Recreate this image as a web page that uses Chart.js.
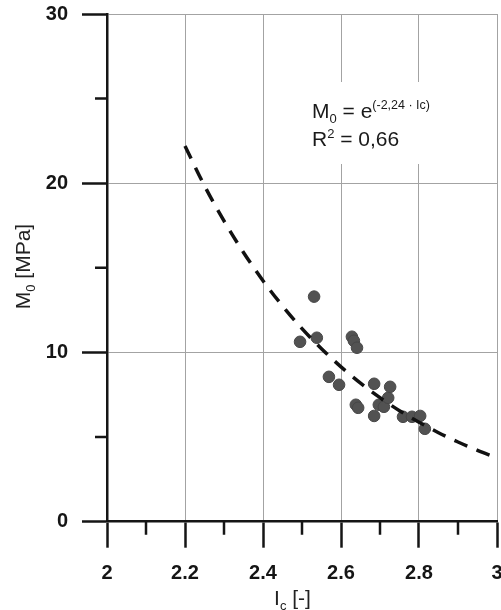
<!DOCTYPE html>
<html>
<head>
<meta charset="utf-8">
<script src="https://cdn.jsdelivr.net/npm/chart.js@4.4.0/dist/chart.umd.min.js"></script>
<style>
  html, body { margin: 0; padding: 0; background: #fff; }
  #wrap { width: 501px; height: 610px; }
</style>
</head>
<body>
<div id="wrap"><canvas id="modulusChart"></canvas></div>
<script>
// measured points: Ic [-] against M0 [MPa]
var icValues = [2.495, 2.531, 2.538, 2.569, 2.595, 2.628, 2.633, 2.641, 2.638, 2.644,
                2.685, 2.685, 2.697, 2.710, 2.721, 2.726, 2.759, 2.782, 2.803, 2.815];
var m0Values = [10.63, 13.30, 10.87, 8.56, 8.09, 10.93, 10.69, 10.28, 6.91, 6.73,
                8.15, 6.25, 6.91, 6.79, 7.32, 7.97, 6.20, 6.20, 6.25, 5.49];

// exponential trend line
var trendIc = [2.20, 2.25, 2.30, 2.35, 2.40, 2.45, 2.50, 2.55, 2.60,
               2.65, 2.70, 2.75, 2.80, 2.85, 2.90, 2.95, 3.00];
var trendM0 = [22.2, 19.85, 17.77, 15.91, 14.24, 12.75, 11.41, 10.22, 9.15,
               8.19, 7.33, 6.56, 5.88, 5.26, 4.71, 4.22, 3.77];

// axis ticks
var xMajor = [2, 2.2, 2.4, 2.6, 2.8, 3];
var xMinor = [2.1, 2.3, 2.5, 2.7, 2.9];
var yMajor = [0, 10, 20, 30];
var yMinor = [5, 15, 25];

var FONT = "'Liberation Sans', Arial, sans-serif";
var INK = '#151515';

function toPoints(xs, ys) {
    return xs.map(function (x, i) { return { x: x, y: ys[i] }; });
}

// draws runs of text with sub/superscripts: [text, size, baselineShift]
function drawRuns(ctx, runs, x, y, align) {
    var total = 0;
    runs.forEach(function (r) {
        ctx.font = r[1] + 'px ' + FONT;
        r.w = ctx.measureText(r[0]).width;
        total += r.w;
    });
    var cx = align === 'center' ? x - total / 2 : x;
    runs.forEach(function (r) {
        ctx.font = r[1] + 'px ' + FONT;
        ctx.fillText(r[0], cx, y + r[2]);
        cx += r.w;
    });
}

var extras = {
    id: 'extras',
    beforeDatasetsDraw: function (chart) {
        var ctx = chart.ctx;
        ctx.save();
        ctx.fillStyle = '#fff';
        ctx.fillRect(292, 82, 170, 82);
        ctx.restore();
    },
    afterDraw: function (chart) {
        var ctx = chart.ctx, xs = chart.scales.x, ys = chart.scales.y;
        ctx.save();

        // minor tick marks
        ctx.strokeStyle = INK;
        ctx.lineWidth = 2.5;
        ctx.beginPath();
        xMinor.forEach(function (v) {
            var px = xs.getPixelForValue(v);
            ctx.moveTo(px, ys.bottom);
            ctx.lineTo(px, ys.bottom + 13);
        });
        yMinor.forEach(function (v) {
            var py = ys.getPixelForValue(v);
            ctx.moveTo(xs.left, py);
            ctx.lineTo(xs.left - 12, py);
        });
        ctx.stroke();

        // fit equation
        ctx.fillStyle = '#1a1a1a';
        ctx.textBaseline = 'alphabetic';
        drawRuns(ctx, [['M', 21, 0], ['0', 13, 5], [' = e', 21, 0], ['(-2,24 \u00b7 Ic)', 12.5, -9]], 312, 117.5, 'left');
        drawRuns(ctx, [['R', 21, 0], ['2', 13, -8], [' = 0,66', 21, 0]], 312, 145.5, 'left');

        // axis titles
        ctx.fillStyle = '#222';
        drawRuns(ctx, [['I', 21, 0], ['c', 13, 5], [' [-]', 21, 0]], 292.5, 605, 'center');
        ctx.translate(30, 266.5);
        ctx.rotate(-Math.PI / 2);
        drawRuns(ctx, [['M', 21, 0], ['0', 13, 5], [' [MPa]', 21, 0]], 0, 0, 'center');

        ctx.restore();
    }
};

var ctx = document.getElementById('modulusChart').getContext('2d');
var modulusChart = new Chart(ctx, {
    type: 'scatter',
    data: {
        datasets: [{
            label: 'trend',
            data: toPoints(trendIc, trendM0),
            showLine: true,
            borderColor: '#111',
            borderWidth: 3.5,
            borderDash: [14, 10],
            pointRadius: 0,
            cubicInterpolationMode: 'monotone',
            order: 0
        }, {
            label: 'M0',
            data: toPoints(icValues, m0Values),
            pointRadius: 5.8,
            pointBackgroundColor: '#525252',
            pointBorderColor: '#474747',
            pointBorderWidth: 1,
            order: 1
        }]
    },
    options: {
        responsive: true,
        maintainAspectRatio: false,
        animation: false,
        layout: { autoPadding: false, padding: { top: 14, right: 4, left: 0, bottom: 0 } },
        plugins: {
            legend: { display: false },
            tooltip: { enabled: false }
        },
        scales: {
            x: {
                type: 'linear',
                min: 2,
                max: 3,
                afterBuildTicks: function (s) { s.ticks = xMajor.map(function (v) { return { value: v }; }); },
                afterFit: function (s) { s.height = 88.3; s.paddingLeft = 0; s.paddingRight = 0; },
                grid: { color: '#a3a3a3', lineWidth: 1, tickColor: INK, tickWidth: 2.5, tickLength: 26 },
                border: { color: INK, width: 2.5 },
                ticks: {
                    padding: 14,
                    color: INK,
                    maxRotation: 0,
                    font: { family: FONT, size: 20, weight: 'bold' },
                    callback: function (v) { return String(Math.round(v * 10) / 10); }
                }
            },
            y: {
                type: 'linear',
                min: 0,
                max: 30,
                afterBuildTicks: function (s) { s.ticks = yMajor.map(function (v) { return { value: v }; }); },
                afterFit: function (s) { s.width = 107; s.paddingTop = 0; s.paddingBottom = 0; },
                grid: { color: '#a3a3a3', lineWidth: 1, tickColor: INK, tickWidth: 2.5, tickLength: 25 },
                border: { color: INK, width: 2.5 },
                ticks: {
                    padding: 14,
                    color: INK,
                    font: { family: FONT, size: 20, weight: 'bold' }
                }
            }
        }
    },
    plugins: [extras]
});
</script>
</body>
</html>
